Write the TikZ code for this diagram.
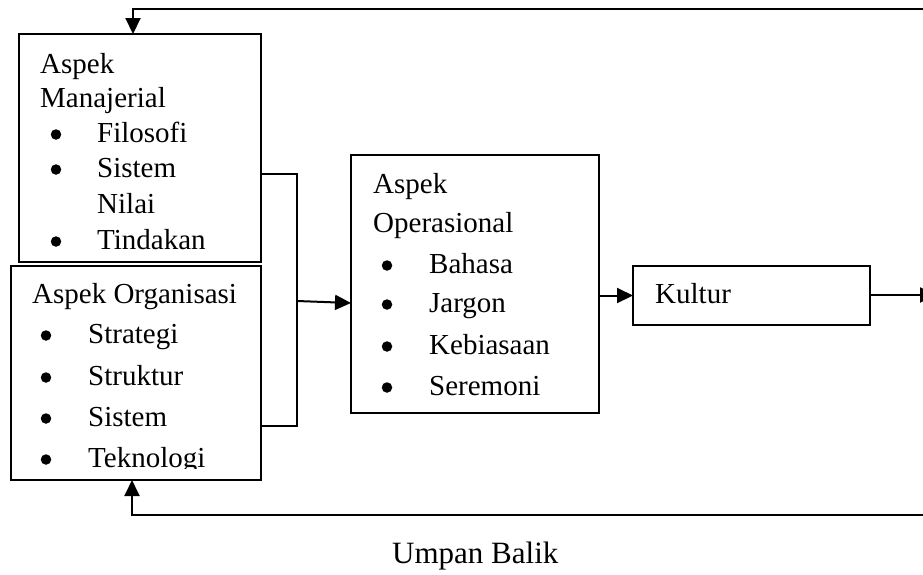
\documentclass[tikz,border=0pt]{standalone}
\usepackage{fontspec}
\setmainfont{Liberation Serif}
\usetikzlibrary{arrows.meta,calc}
\begin{document}
\begin{tikzpicture}[x=1pt,y=-1pt,
  box/.style={draw,line width=2pt,inner sep=0pt,outer sep=0pt,anchor=north west},
  txt/.style={anchor=base west,inner sep=0pt,font=\fontsize{29}{35}\selectfont},
  dot/.style={circle,fill,inner sep=0pt,minimum size=10.5pt,yshift=7.5pt},
  conn/.style={line width=2pt},
  arr/.style={conn,-{Triangle[length=16pt,width=15pt]}}]
\useasboundingbox (0,0) rectangle (923,574);
\clip (0,0) rectangle (923,574);

% boxes
\node[box,minimum width=242pt,minimum height=228pt] (mana) at (19,34) {};
\node[box,minimum width=250pt,minimum height=214pt] (org) at (11,266) {};
\node[box,minimum width=248pt,minimum height=258pt] (ops) at (351,155) {};
\node[box,minimum width=237pt,minimum height=59pt] (kultur) at (633,266) {};

% managerial aspect
\node[txt] (m0) at (40,73) {Aspek};
\node[txt] (m1) at (40,107) {Manajerial};
\node[dot] (m2b) at (56,142) {};
\node[txt] (m2) at (97,142) {Filosofi};
\node[dot] (m3b) at (56,177) {};
\node[txt] (m3) at (97,177) {Sistem};
\node[txt] (m4) at (97,213) {Nilai};
\node[dot] (m5b) at (56,249) {};
\node[txt] (m5) at (97,249) {Tindakan};

% organisational aspect
\node[txt] (o0) at (32,303) {Aspek Organisasi};
\node[dot] (o1b) at (46,343) {};
\node[txt] (o1) at (88,343) {Strategi};
\node[dot] (o2b) at (46,385) {};
\node[txt] (o2) at (88,385) {Struktur};
\node[dot] (o3b) at (46,426) {};
\node[txt] (o3) at (88,426) {Sistem};
\node[dot] (o4b) at (46,467) {};
\begin{scope}
  \clip (11,266) rectangle (261,468);
  \node[txt] (o4) at (88,467) {Teknologi};
\end{scope}

% operational aspect
\node[txt] (p0) at (373,193) {Aspek};
\node[txt] (p1) at (373,232) {Operasional};
\node[dot] (p2b) at (387,273) {};
\node[txt] (p2) at (429,273) {Bahasa};
\node[dot] (p3b) at (387,312) {};
\node[txt] (p3) at (429,312) {Jargon};
\node[dot] (p4b) at (387,354) {};
\node[txt] (p4) at (429,354) {Kebiasaan};
\node[dot] (p5b) at (387,395) {};
\node[txt] (p5) at (429,395) {Seremoni};

% culture
\node[txt] (k0) at (655,303) {Kultur};

% feedback label
\node[anchor=base west,inner sep=0pt,font=\fontsize{31}{37}\selectfont] (umpan) at (392,563) {Umpan Balik};

% joining bracket
\coordinate (bt) at (297,174);
\coordinate (bb) at (297,426);
\coordinate (bm) at (297,301);
\coordinate (opin) at ($(ops.north west)+(0,148)$);
\draw[conn] (bt -| mana.east) -- (bt) -- (bb) -- (bb -| org.east);
\draw[arr] (bm) -- (opin);

% forward flow
\draw[arr] (kultur.west -| ops.east) -- (kultur.west);
\coordinate (out) at (936,295);
\draw[arr] (kultur.east |- out) -- (out);

% feedback lines
\coordinate (topR) at (935,9);
\coordinate (topL) at (133,9);
\draw[arr] (topR) -- (topL) -- (topL |- mana.north);
\coordinate (botR) at (935,515);
\coordinate (botL) at (132,515);
\draw[arr] (botR) -- (botL) -- (botL |- org.south);
\end{tikzpicture}
\end{document}
